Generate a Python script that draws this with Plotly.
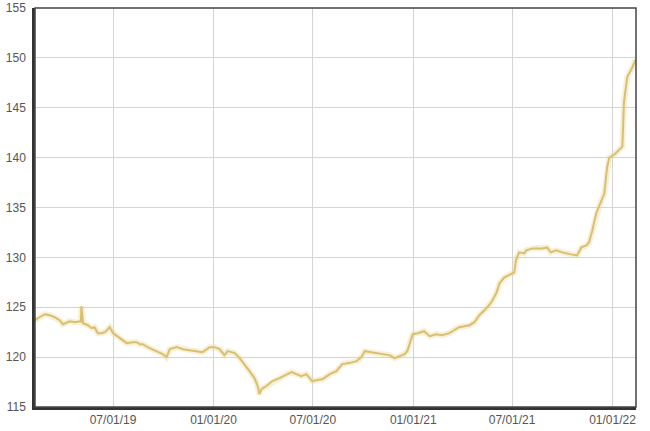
import plotly.graph_objects as go

dates = [
    "2019-02-08", "2019-02-13", "2019-02-26", "2019-03-07", "2019-03-16", "2019-03-25",
    "2019-03-31", "2019-04-07", "2019-04-13", "2019-04-22", "2019-05-01", "2019-05-03",
    "2019-05-04", "2019-05-07", "2019-05-16", "2019-05-23", "2019-05-28", "2019-06-03",
    "2019-06-10", "2019-06-16", "2019-06-25", "2019-07-01", "2019-07-08", "2019-07-17",
    "2019-07-26", "2019-08-06", "2019-08-13", "2019-08-19", "2019-08-24", "2019-09-06",
    "2019-09-19", "2019-09-30", "2019-10-07", "2019-10-13", "2019-10-26", "2019-11-06",
    "2019-11-18", "2019-12-01", "2019-12-12", "2019-12-25", "2020-01-03", "2020-01-12",
    "2020-01-21", "2020-01-27", "2020-02-05", "2020-02-09", "2020-02-18", "2020-02-27",
    "2020-03-07", "2020-03-16", "2020-03-22", "2020-03-25", "2020-03-29", "2020-04-07",
    "2020-04-18", "2020-05-01", "2020-05-14", "2020-05-23", "2020-06-01", "2020-06-10",
    "2020-06-19", "2020-06-30", "2020-07-10", "2020-07-19", "2020-08-01", "2020-08-13",
    "2020-08-24", "2020-09-06", "2020-09-19", "2020-09-28", "2020-10-04", "2020-10-13",
    "2020-10-26", "2020-11-06", "2020-11-18", "2020-11-28", "2020-12-07", "2020-12-16",
    "2020-12-21", "2020-12-27", "2020-12-31", "2021-01-09", "2021-01-21", "2021-01-31",
    "2021-02-12", "2021-02-23", "2021-03-08", "2021-03-26", "2021-04-14", "2021-04-23",
    "2021-05-02", "2021-05-15", "2021-05-24", "2021-06-02", "2021-06-08", "2021-06-17",
    "2021-06-30", "2021-07-05", "2021-07-08", "2021-07-14", "2021-07-23", "2021-07-27",
    "2021-08-07", "2021-08-25", "2021-09-03", "2021-09-10", "2021-09-20", "2021-10-01",
    "2021-10-17", "2021-10-28", "2021-11-05", "2021-11-14", "2021-11-19", "2021-11-25",
    "2021-12-02", "2021-12-08", "2021-12-17", "2021-12-22", "2021-12-26", "2022-01-04",
    "2022-01-17", "2022-01-19", "2022-01-22", "2022-01-28", "2022-02-06", "2022-02-12",
]

values = [
    123.7, 123.9, 124.3, 124.2, 124.0, 123.7,
    123.3, 123.5, 123.6, 123.5, 123.6, 123.5,
    125.1, 123.4, 123.2, 122.9, 123.0, 122.4,
    122.4, 122.5, 123.0, 122.4, 122.1, 121.8,
    121.4, 121.5, 121.5, 121.3, 121.3, 120.9,
    120.6, 120.3, 120.0, 120.8, 121.0, 120.8,
    120.7, 120.6, 120.5, 121.0, 121.0, 120.8,
    120.2, 120.6, 120.5, 120.4, 119.9, 119.3,
    118.6, 117.9, 117.1, 116.3, 116.8, 117.1,
    117.6, 117.9, 118.3, 118.5, 118.3, 118.1,
    118.3, 117.6, 117.7, 117.8, 118.3, 118.6,
    119.3, 119.4, 119.6, 120.0, 120.6, 120.5,
    120.4, 120.3, 120.2, 119.9, 120.1, 120.3,
    120.6, 121.6, 122.3, 122.4, 122.6, 122.1,
    122.3, 122.2, 122.4, 123.0, 123.2, 123.5,
    124.2, 124.9, 125.5, 126.4, 127.4, 128.0,
    128.4, 128.5, 129.7, 130.5, 130.4, 130.7,
    130.9, 130.9, 131.0, 130.5, 130.7, 130.5,
    130.3, 130.2, 131.0, 131.2, 131.5, 132.7,
    134.4, 135.2, 136.4, 139.0, 140.0, 140.3,
    141.0, 141.1, 145.6, 148.1, 149.0, 149.8,
]

tick_vals = ["2019-07-01", "2020-01-01", "2020-07-01", "2021-01-01", "2021-07-01", "2022-01-01"]
tick_text = ["07/01/19", "01/01/20", "07/01/20", "01/01/21", "07/01/21", "01/01/22"]
y_ticks = [115, 120, 125, 130, 135, 140, 145, 150, 155]

fig = go.Figure()
# soft glow beneath the line
fig.add_trace(go.Scatter(x=dates, y=values, mode="lines",
                         line=dict(color="rgba(232,212,140,0.35)", width=6),
                         hoverinfo="skip", showlegend=False))
fig.add_trace(go.Scatter(x=dates, y=values, mode="lines",
                         line=dict(color="#d8c070", width=2),
                         showlegend=False))

fig.update_layout(
    width=650, height=431,
    margin=dict(l=35, r=14, t=8, b=24),
    paper_bgcolor="white", plot_bgcolor="white",
    font=dict(family="Liberation Sans, Arial, sans-serif", size=12, color="#555"),
    xaxis=dict(
        range=["2019-02-08", "2022-02-13"],
        tickvals=tick_vals, ticktext=tick_text,
        showgrid=True, gridcolor="#d4d4d4", gridwidth=1,
        showline=True, linecolor="#333", linewidth=2.5,
        ticks="", zeroline=False, automargin=False,
    ),
    yaxis=dict(
        range=[115, 155],
        tickvals=y_ticks,
        showgrid=True, gridcolor="#d4d4d4", gridwidth=1,
        showline=True, linecolor="#333", linewidth=2.5,
        ticks="", zeroline=False, ticklabelstandoff=4, automargin=False,
    ),
    shapes=[dict(type="rect", xref="x domain", yref="y domain",
                 x0=0, x1=1, y0=0, y1=1,
                 line=dict(color="#444", width=1.5), layer="above")],
)

fig.write_html("out.html", config={"displayModeBar": False},
               post_script="document.body.style.margin='0px';")
